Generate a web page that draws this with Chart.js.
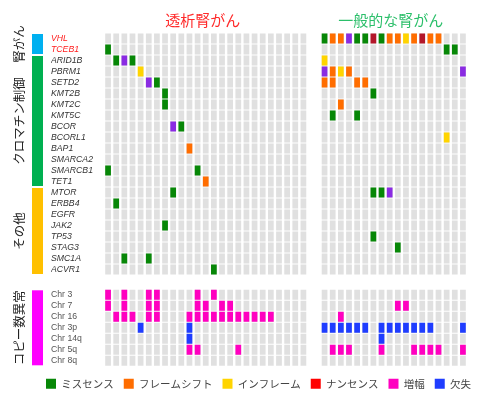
<!DOCTYPE html>
<html>
<head>
<meta charset="utf-8">
<script src="https://cdn.jsdelivr.net/npm/chart.js@4"></script>
<style>
  html, body { margin: 0; padding: 0; background: #fff; }
</style>
</head>
<body>
<canvas id="onco" width="487" height="409"></canvas>
<script>
// rows
const geneRows = ['VHL', 'TCEB1', 'ARID1B', 'PBRM1', 'SETD2', 'KMT2B', 'KMT2C', 'KMT5C',
  'BCOR', 'BCORL1', 'BAP1', 'SMARCA2', 'SMARCB1', 'TET1', 'MTOR', 'ERBB4', 'EGFR',
  'JAK2', 'TP53', 'STAG3', 'SMC1A', 'ACVR1'];
const cnRows = ['Chr 3', 'Chr 7', 'Chr 16', 'Chr 3p', 'Chr 14q', 'Chr 5q', 'Chr 8q'];
const redGenes = ['VHL', 'TCEB1'];

// one string per row, one char per sample
// M missense, F frameshift, I inframe, N nonsense, X multiple, A amp, D del
const dialysisMut = [
  '.........................',
  'M........................',
  '.MXM.....................',
  '....I....................',
  '.....XM..................',
  '.......M.................',
  '.......M.................',
  '.........................',
  '........XM...............',
  '.........................',
  '..........F..............',
  '.........................',
  'M..........M.............',
  '............F............',
  '........M................',
  '.M.......................',
  '.........................',
  '.......M.................',
  '.........................',
  '.........................',
  '..M..M...................',
  '.............M...........'
];
const dialysisCN = [
  'A.A..AA....A.A...........',
  'A.A..AA....AA.AA.........',
  '.AAA.AA...AAAAAAAAAAA....',
  '....D.....D..............',
  '..........D..............',
  '..........AA....A........',
  '.........................'
];
const generalMut = [
  'MFFXMMNMFFIFNFF...',
  '...............MM.',
  'I.................',
  'XFIF.............X',
  'FF..FF............',
  '......M...........',
  '..F...............',
  '.M..M.............',
  '..................',
  '...............I..',
  '..................',
  '..................',
  '..................',
  '..................',
  '......MMX.........',
  '..................',
  '..................',
  '..................',
  '......M...........',
  '.........M........',
  '..................',
  '..................'
];
const generalCN = [
  '..................',
  '.........AA.......',
  '..A...............',
  'DDDDDD.DDDDDDD...D',
  '.......D..........',
  '.AAA...A...AAAA..A',
  '..................'
];

const panelTitles = ['透析腎がん', '一般的な腎がん'];
const groups = [
  { label: '腎がん', first: 'VHL', last: 'TCEB1' },
  { label: 'クロマチン制御', first: 'ARID1B', last: 'TET1' },
  { label: 'その他', first: 'MTOR', last: 'ACVR1' },
  { label: 'コピー数異常', first: 'Chr 3', last: 'Chr 8q' }
];
const types = [
  { code: 'M', label: 'ミスセンス' },
  { code: 'F', label: 'フレームシフト' },
  { code: 'I', label: 'インフレーム' },
  { code: 'N', label: 'ナンセンス' },
  { code: 'A', label: '増幅' },
  { code: 'D', label: '欠失' },
  { code: 'X', label: '複数' }
];

// styles
const cellColor = { M: '#078707', F: '#ff6d00', I: '#ffd400', N: '#b3172a', A: '#ff00c0', D: '#1f3dff', X: '#8a2be2' };
const keyColor = { M: '#078707', F: '#ff6d00', I: '#ffd400', N: '#ff0000', A: '#ff00c0', D: '#1f3dff' };
const groupColor = ['#00b0f0', '#00b050', '#ffc000', '#ff00ff'];
const titleColor = ['#ff2a2a', '#2bbf6a'];
const GAP_X = 26.6;  // x position of the second panel's first column
const GAP_Y = 23.3;  // y position of the first copy-number row
const JP = "'Noto Sans CJK JP', sans-serif";
const LAT = "'Liberation Sans', Arial, sans-serif";

const rowNames = geneRows.concat(cnRows);
const rowY = rowNames.map((n, i) => i < geneRows.length ? i : GAP_Y + i - geneRows.length);

const panels = [
  { lines: dialysisMut.concat(dialysisCN), x0: 0 },
  { lines: generalMut.concat(generalCN), x0: GAP_X }
];

const cells = {};
const bg = [];
panels.forEach(p => {
  p.lines.forEach((line, r) => {
    [...line].forEach((c, j) => {
      const pt = { x: p.x0 + j, y: [rowY[r] - 0.45, rowY[r] + 0.45] };
      bg.push(pt);
      if (c !== '.') (cells[c] = cells[c] || []).push(pt);
    });
  });
});

const datasets = types.map(t => ({
  label: t.label,
  data: cells[t.code] || [],
  backgroundColor: cellColor[t.code],
  xAxisID: 'x',
  yAxisID: 'y'
}));
datasets.push({ label: 'bg', data: bg, backgroundColor: '#e0e0e0', xAxisID: 'x', yAxisID: 'y' });

// spacer axes keep the legend wide while holding the plot where it belongs
const spacer = (pos, w) => ({
  type: 'linear',
  position: pos,
  weight: 1,
  grid: { display: false },
  border: { display: false },
  ticks: { display: false },
  afterFit: s => { s.width = w; }
});

const decor = {
  id: 'decor',
  afterDraw(chart) {
    const { ctx } = chart;
    const x = chart.scales.x, y = chart.scales.y;
    ctx.save();
    ctx.textAlign = 'center';
    ctx.textBaseline = 'middle';
    ctx.font = '15px ' + JP;
    const centers = [x.getPixelForValue(12), x.getPixelForValue(GAP_X + 8.5)];
    panelTitles.forEach((t, i) => {
      ctx.fillStyle = titleColor[i];
      ctx.fillText(t, centers[i] - 3, 20);
    });

    groups.forEach((g, i) => {
      const top = y.getPixelForValue(rowY[rowNames.indexOf(g.first)] - 0.5) + 1;
      const bottom = y.getPixelForValue(rowY[rowNames.indexOf(g.last)] + 0.5) - 1;
      ctx.fillStyle = groupColor[i];
      ctx.fillRect(y.left - 19, top, 11, bottom - top);
      ctx.save();
      ctx.translate(y.left - 32, (top + bottom) / 2);
      ctx.rotate(-Math.PI / 2);
      ctx.fillStyle = '#222';
      ctx.font = '12.5px ' + JP;
      ctx.fillText(g.label, 0, 0);
      ctx.restore();
    });
    ctx.restore();
  }
};

new Chart(document.getElementById('onco'), {
  type: 'bar',
  data: { datasets },
  plugins: [decor],
  options: {
    responsive: false,
    animation: false,
    events: [],
    layout: { padding: { left: 34, right: 4, top: 33, bottom: 10 } },
    datasets: { bar: { grouped: false, barPercentage: 0.88, borderWidth: 0 } },
    scales: {
      x: {
        type: 'linear',
        display: false,
        offset: false,
        min: -0.5,
        max: GAP_X + 17.5,
        ticks: { stepSize: 1, includeBounds: false }
      },
      y: {
        type: 'linear',
        reverse: true,
        min: -0.5,
        max: 30,
        grid: { display: false },
        border: { display: false },
        afterBuildTicks: s => { s.ticks = rowY.map(v => ({ value: v })); },
        afterFit: s => { s.width = 53; },
        ticks: {
          autoSkip: false,
          crossAlign: 'far',
          callback: (v, i) => rowNames[i],
          color: c => redGenes.includes(rowNames[c.index]) ? '#ff2020' : (c.index < geneRows.length ? '#333' : '#555'),
          font: c => ({ family: LAT, size: 8.7, style: c.index < geneRows.length ? 'italic' : 'normal' })
        }
      },
      padL: spacer('left', 17),
      padR: spacer('right', 16)
    },
    plugins: {
      tooltip: { enabled: false },
      legend: {
        position: 'bottom',
        labels: {
          boxWidth: 10,
          boxHeight: 10,
          padding: 10,
          color: '#444',
          font: { family: JP, size: 10.5 },
          generateLabels: () => types.filter(t => keyColor[t.code]).map(t => ({
            text: t.label,
            fillStyle: keyColor[t.code],
            strokeStyle: keyColor[t.code],
            lineWidth: 0,
            hidden: false,
            fontColor: '#444'
          }))
        }
      }
    }
  }
});
</script>
</body>
</html>
